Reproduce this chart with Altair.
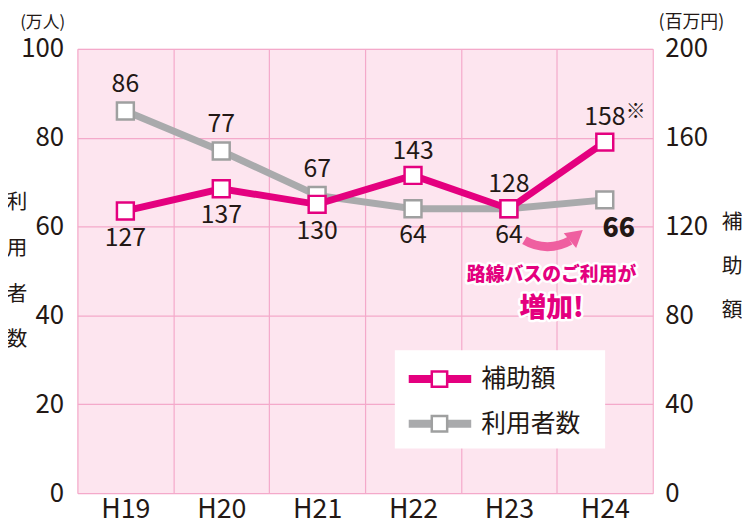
import altair as alt
import pandas as pd

years = ["H19", "H20", "H21", "H22", "H23", "H24"]
users = [86, 77, 67, 64, 64, 66]            # 利用者数 (万人)
subsidy = [127, 137, 130, 143, 128, 158]    # 補助額 (百万円)
users_side = ["above", "above", "above", "below", "below", "bold"]
subsidy_side = ["below", "below", "below", "above", "above", "above"]
left_ticks = [0, 20, 40, 60, 80, 100]
right_ticks = [0, 40, 80, 120, 160, 200]

df = pd.DataFrame({
    "year": years,
    "users": users,
    "subsidy": subsidy,
    "uside": users_side,
    "sside": subsidy_side,
})

W, H = 580, 448
FONT = "Noto Sans CJK JP"
MAG = "#e4007f"
GRAY = "#a9aaac"
GRAYM = "#9fa0a0"
TXT = "#231815"
GRID = "#f4a9ca"
BG = "#fde5ef"
ARROW = "#ef5fa0"
LFS = 26

xenc = alt.X(
    "year:N", sort=years,
    scale=alt.Scale(type="band", paddingInner=0, paddingOuter=0),
    axis=alt.Axis(title=None, labelFontSize=27, labelAngle=0, labelPadding=4,
                  ticks=False, domain=False, grid=True, gridColor=GRID,
                  gridWidth=1.2, tickBand="extent", labelFont=FONT,
                  labelColor=TXT),
)
xs = alt.X("year:N", sort=years)

yL = alt.Y("users:Q", scale=alt.Scale(domain=[0, 100]),
           axis=alt.Axis(values=left_ticks, title=None, orient="left",
                         labelFontSize=LFS, labelFont=FONT, labelColor=TXT,
                         labelPadding=14, ticks=False, domain=False,
                         grid=True, gridColor=GRID, gridWidth=1.2))
yR = alt.Y("subsidy:Q", scale=alt.Scale(domain=[0, 200]),
           axis=alt.Axis(values=right_ticks, title=None, orient="right",
                         labelFontSize=LFS, labelFont=FONT, labelColor=TXT,
                         labelPadding=12, ticks=False, domain=False,
                         grid=False))
yLs = alt.Y("users:Q")
yRs = alt.Y("subsidy:Q")

base = alt.Chart(df)

gray_line = base.mark_line(color=GRAY, strokeWidth=7).encode(x=xenc, y=yL)
gray_pts = base.mark_square(size=290, fill="white", stroke=GRAYM,
                            strokeWidth=2.5, opacity=1).encode(x=xs, y=yLs)
txt_kw = dict(font=FONT, fontSize=25, color=TXT)
gray_above = base.transform_filter("datum.uside == 'above'").mark_text(
    dy=-27, **txt_kw).encode(x=xs, y=yLs, text="users:Q")
gray_below = base.transform_filter("datum.uside == 'below'").mark_text(
    dy=27, **txt_kw).encode(x=xs, y=yLs, text="users:Q")
gray_bold = base.transform_filter("datum.uside == 'bold'").mark_text(
    dx=14, dy=29, font=FONT, fontSize=27, fontWeight=900, color=TXT
).encode(x=xs, y=yLs, text="users:Q")

gray_group = alt.layer(gray_line, gray_pts, gray_above, gray_below, gray_bold)

mag_line = base.mark_line(color=MAG, strokeWidth=7).encode(x=xs, y=yR)
mag_pts = base.mark_square(size=290, fill="white", stroke=MAG,
                           strokeWidth=2.5, opacity=1).encode(x=xs, y=yRs)
mag_above = base.transform_filter("datum.sside == 'above'").mark_text(
    dy=-25, **txt_kw).encode(x=xs, y=yRs, text="subsidy:Q")
mag_below = base.transform_filter("datum.sside == 'below'").mark_text(
    dy=27, **txt_kw).encode(x=xs, y=yRs, text="subsidy:Q")
mag_note = base.transform_filter("datum.year == 'H24'").mark_text(
    dx=31, dy=-30, font=FONT, fontSize=20, fontWeight="bold", color=TXT
).encode(x=xs, y=yRs, text=alt.value("※"))

mag_group = alt.layer(mag_line, mag_pts, mag_above, mag_below, mag_note)

one = pd.DataFrame({"k": [0]})
ann = alt.Chart(one)

def label(text, x, y, size=20, **kw):
    return ann.mark_text(font=FONT, fontSize=size, color=kw.pop("color", TXT),
                         **kw).encode(x=alt.value(x), y=alt.value(y),
                                      text=alt.value(text))

titles = [
    label("(万人)", -35, -26, 17),
    label("(百万円)", 619, -26, 18),
    label("利\n用\n者\n数", -61, 156, 21, lineBreak="\n", lineHeight=46),
    label("補\n助\n額", 660, 176, 21, lineBreak="\n", lineHeight=44),
]

# Legend box
legend_items = [("補助額", MAG, MAG), ("利用者数", GRAY, GRAYM)]
legend_layers = [
    ann.mark_rect(fill="white").encode(x=alt.value(320), x2=alt.value(532),
                                       y=alt.value(304), y2=alt.value(403))
]
for i, (name, lc, mc) in enumerate(legend_items):
    yy = 333 + 45 * i
    legend_layers.append(ann.mark_rule(color=lc, strokeWidth=8).encode(
        x=alt.value(334), x2=alt.value(397), y=alt.value(yy)))
    legend_layers.append(ann.mark_square(size=240, fill="white", stroke=mc,
                                         strokeWidth=2.5, opacity=1).encode(
        x=alt.value(365), y=alt.value(yy)))
    legend_layers.append(ann.mark_text(font=FONT, fontSize=25, color=TXT,
                                       align="left").encode(
        x=alt.value(407), y=alt.value(yy), text=alt.value(name)))

# Callout arrow and text
arrow = [
    ann.mark_arc(theta=2.62, theta2=3.68, innerRadius=41, outerRadius=50,
                 color=ARROW).encode(x=alt.value(474), y=alt.value(154)),
    ann.mark_point(shape="triangle-up", size=380, filled=True, opacity=1,
                   color=ARROW, angle=50).encode(x=alt.value(503),
                                                 y=alt.value(188)),
]
callout = []
for text, yy, fs in [("路線バスのご利用が", 228, 19), ("増加!", 262, 27)]:
    callout.append(ann.mark_text(font=FONT, fontSize=fs, fontWeight=900,
                                 color="white", stroke="white",
                                 strokeWidth=5, strokeJoin="round").encode(
        x=alt.value(478), y=alt.value(yy), text=alt.value(text)))
    callout.append(ann.mark_text(font=FONT, fontSize=fs, fontWeight=900,
                                 color=MAG).encode(
        x=alt.value(478), y=alt.value(yy), text=alt.value(text)))

chart = alt.layer(
    gray_group, mag_group, *titles, *legend_layers, *arrow, *callout
).resolve_scale(y="independent").properties(
    width=W, height=H, autosize="none",
    padding={"left": 70, "top": 39, "right": 90, "bottom": 32},
).configure_view(fill=BG, stroke=None)

chart.save("out.html", embed_options={"renderer": "svg", "actions": False})
